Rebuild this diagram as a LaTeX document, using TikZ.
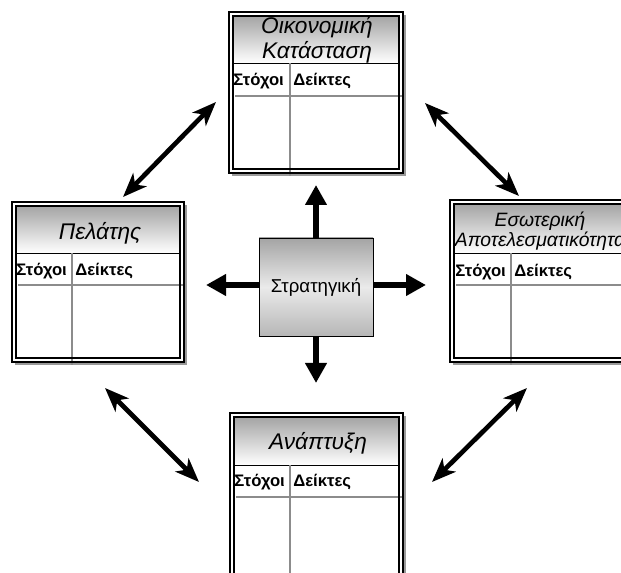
\documentclass[tikz,border=0pt]{standalone}
\usepackage{fontspec}
\setmainfont{Liberation Sans}
\usetikzlibrary{arrows.meta}

\definecolor{headtop}{HTML}{A4A4A4}
\definecolor{gridgray}{HTML}{8C8C8C}
\definecolor{shadowgray}{HTML}{9A9A9A}

\tikzset{
  x=0.75pt, y=-0.75pt,
  gridline/.style={draw=gridgray, line width=1.1pt},
  outerframe/.style={draw=black, line width=2.2pt},
  innerframe/.style={draw=black, line width=0.9pt},
  coltext/.style={font=\fontsize{12.5}{14}\selectfont\bfseries, inner sep=0pt, anchor=west},
  titletext/.style={font=\fontsize{17}{19}\selectfont\itshape, align=center, inner sep=0pt},
  stratbox/.style={draw=black, line width=0.6pt, top color=headtop, bottom color=headtop!80,
    middle color=white!92!black, minimum width=85.5pt, minimum height=73.5pt, inner sep=0pt,
    font=\fontsize{14}{16}\selectfont},
  outarrow/.style={line width=4.8pt, -{Triangle[length=15pt,width=15.5pt]}},
  linkarrow/.style={line width=3.5pt, {Stealth[length=18pt,width=14pt,inset=5pt]}-{Stealth[length=18pt,width=14pt,inset=5pt]}},
}

% panel frame: #1 x0, #2 y0, #3 x1, #4 y1, #5 header bottom, #6 divider x, #7 row line y
\newcommand\panelframe[7]{%
  \fill[shadowgray, shift={(3,3)}] (#1,#2) rectangle (#3,#4);
  \fill[white] (#1,#2) rectangle (#3,#4);
  \shade[top color=headtop, bottom color=white] (#1+4,#2+4) rectangle (#3-4,#5);
  \draw[black, line width=0.6pt] (#1+4,#5) -- (#3-4,#5);
  \draw[gridline] (#6,#5) -- (#6,#4+3);
  \draw[gridline] (#1+6,#7) -- (#3,#7);
  \draw[outerframe] (#1,#2) rectangle (#3,#4);
  \draw[innerframe] (#1+4,#2+4) rectangle (#3-4,#4-4);
}

\begin{document}
\begin{tikzpicture}
\useasboundingbox (0,0) rectangle (621,573);
\fill[white] (0,0) rectangle (621,573);
\clip (0,0) rectangle (621,573);

% financial panel (top)
\panelframe{229}{12}{403}{173}{63}{290}{96}
\node[titletext] (fintitle) at (317,40) {Οικονομική\\Κατάσταση};
\node[coltext] (fingoals) at (233,81) {Στόχοι};
\node[coltext] (finind) at (293,81) {Δείκτες};

% customer panel (left)
\panelframe{12}{202}{184}{362}{253}{72}{285}
\node[titletext] (custtitle) at (100,233) {Πελάτης};
\node[coltext] (custgoals) at (16,271) {Στόχοι};
\node[coltext] (custind) at (75,271) {Δείκτες};

% internal processes panel (right), running past the right edge
\panelframe{450}{200}{626}{362}{253}{511}{285}
\node[titletext, font=\fontsize{14.5}{15}\selectfont\itshape] (inttitle) at (540,231) {Εσωτερική\\Αποτελεσματικότητα};
\node[coltext] (intgoals) at (455,272) {Στόχοι};
\node[coltext] (intind) at (514,272) {Δείκτες};

% development panel (bottom), running past the lower edge
\panelframe{230}{413}{403}{578}{465}{290}{497}
\node[titletext] (devtitle) at (318,443) {Ανάπτυξη};
\node[coltext] (devgoals) at (234,482) {Στόχοι};
\node[coltext] (devind) at (293,482) {Δείκτες};

% strategy in the middle
\node[stratbox] (strat) at (316,287) {Στρατηγική};
\coordinate (upend) at (316,185);
\coordinate (downend) at (316,383);
\coordinate (leftend) at (206,285);
\coordinate (rightend) at (426,285);
\draw[outarrow] (strat.north) -- (upend);
\draw[outarrow] (strat.south) -- (downend);
\draw[outarrow] (strat.west |- leftend) -- (leftend);
\draw[outarrow] (strat.east |- rightend) -- (rightend);

% links between neighbouring panels
\coordinate (ula) at (123,197);
\coordinate (ulb) at (216,102);
\coordinate (ura) at (425,103);
\coordinate (urb) at (519,196);
\coordinate (lla) at (105,388);
\coordinate (llb) at (199,482);
\coordinate (lra) at (527,388);
\coordinate (lrb) at (432,482);
\draw[linkarrow] (ula) -- (ulb);
\draw[linkarrow] (ura) -- (urb);
\draw[linkarrow] (lla) -- (llb);
\draw[linkarrow] (lra) -- (lrb);
\end{tikzpicture}
\end{document}
